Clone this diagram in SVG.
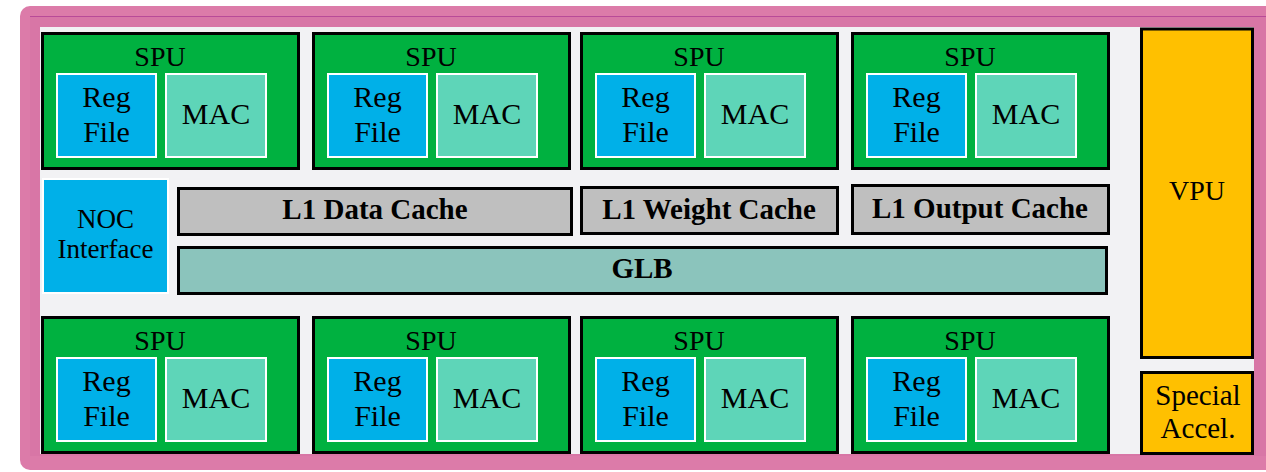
<svg xmlns="http://www.w3.org/2000/svg" width="1266" height="472" viewBox="0 0 1266 472">
  <style>
    .spu { fill: #00b140; stroke: #000; stroke-width: 3; }
    .reg { fill: #00b0e8; stroke: #fff; stroke-width: 2; }
    .mac { fill: #5ed5b8; stroke: #fff; stroke-width: 2; }
    .cache { fill: #bfbfbf; stroke: #000; stroke-width: 3; }
    .glb { fill: #8bc4bc; stroke: #000; stroke-width: 3; }
    .acc { fill: #ffc000; stroke: #000; stroke-width: 3; }
    .t { font-family: "Liberation Serif", "Times New Roman", serif; fill: #000; text-anchor: middle; }
    .n { font-size: 28px; }
    .m { font-size: 30px; }
    .b { font-size: 29px; font-weight: bold; }
  </style>
  <defs>
    <g id="spuCell">
      <rect class="spu" x="1.5" y="1.5" width="256" height="135"/>
      <rect class="reg" x="16" y="42" width="99" height="83"/>
      <rect class="mac" x="125" y="42" width="100" height="83"/>
      <text class="t n" x="119" y="34">SPU</text>
      <text class="t m" x="65.5" y="75">Reg</text>
      <text class="t m" x="65.5" y="110">File</text>
      <text class="t m" x="175" y="92">MAC</text>
    </g>
  </defs>

  <!-- chip frame -->
  <g id="frame">
    <rect x="20" y="6" width="1262" height="464" rx="10" fill="#dc7ba9"/>
    <rect x="30" y="16" width="1250" height="440" fill="#d876a6"/>
    <line x1="30" y1="16.5" x2="1266" y2="16.5" stroke="#b94a98" stroke-width="1.2"/>
    <rect x="40" y="27" width="1214" height="427" fill="#f2f2f4"/>
  </g>

  <!-- processing units, top row -->
  <g id="spu-t1"><use href="#spuCell" x="41" y="32"/></g>
  <g id="spu-t2"><use href="#spuCell" x="312" y="32"/></g>
  <g id="spu-t3"><use href="#spuCell" x="580" y="32"/></g>
  <g id="spu-t4"><use href="#spuCell" x="851" y="32"/></g>

  <!-- processing units, bottom row -->
  <g id="spu-b1"><use href="#spuCell" x="41" y="316"/></g>
  <g id="spu-b2"><use href="#spuCell" x="312" y="316"/></g>
  <g id="spu-b3"><use href="#spuCell" x="580" y="316"/></g>
  <g id="spu-b4"><use href="#spuCell" x="851" y="316"/></g>

  <!-- network interface -->
  <g id="noc">
    <rect x="43" y="179" width="125" height="114" fill="#00b0e8" stroke="#fff" stroke-width="2"/>
    <text class="t" x="105.5" y="228" font-size="27">NOC</text>
    <text class="t" x="105.5" y="258" font-size="27">Interface</text>
  </g>

  <!-- L1 caches -->
  <g id="l1-data">
    <rect class="cache" x="178.5" y="188.5" width="393" height="46"/>
    <text class="t b" x="375" y="219">L1 Data Cache</text>
  </g>
  <g id="l1-weight">
    <rect class="cache" x="581.5" y="187.5" width="256" height="46"/>
    <text class="t b" x="709" y="219">L1 Weight Cache</text>
  </g>
  <g id="l1-output">
    <rect class="cache" x="852.5" y="185.5" width="256" height="48"/>
    <text class="t b" x="980" y="218">L1 Output Cache</text>
  </g>

  <!-- global buffer -->
  <g id="glb">
    <rect class="glb" x="178.5" y="247.5" width="928" height="46"/>
    <text class="t b" x="642" y="278">GLB</text>
  </g>

  <!-- vector unit and accelerator -->
  <g id="vpu">
    <rect class="acc" x="1141.5" y="29" width="111" height="328.5"/>
    <text class="t n" x="1197" y="200">VPU</text>
  </g>
  <g id="special">
    <rect class="acc" x="1141.5" y="372.5" width="111" height="81"/>
    <text class="t" x="1198" y="405" font-size="29">Special</text>
    <text class="t" x="1198" y="438" font-size="29">Accel.</text>
  </g>

  <g id="connectors"/>
</svg>
